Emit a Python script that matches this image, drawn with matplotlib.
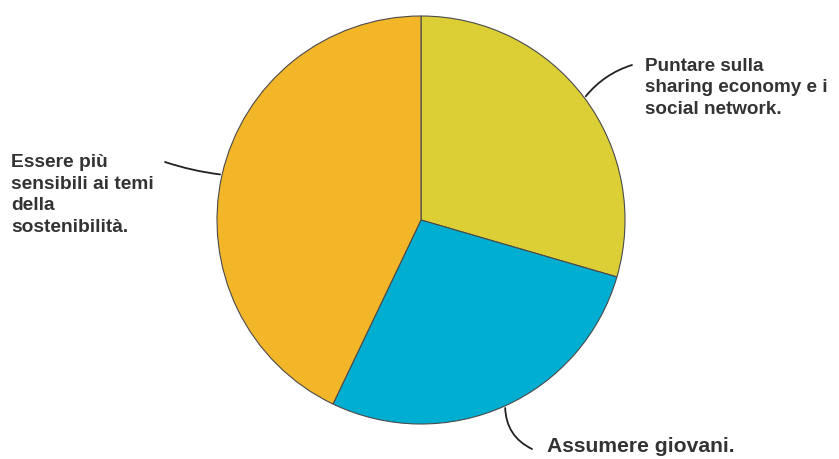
import matplotlib.pyplot as plt
import numpy as np

labels = ['Puntare sulla\nsharing economy e i\nsocial network.',
          'Assumere giovani.',
          'Essere più\nsensibili ai temi\ndella\nsostenibilità.']
values = [29.5, 27.6, 42.9]
colors = ['#dccf36', '#00aed1', '#f2b628']

# text placement (pixel-like coords, y up), line end near text, curvature
text_pos = [(645, 371), (547, 12), (11, 264)]
line_end = [(632, 394), (532, 10), (165, 297)]
rads = [0.15, -0.3, 0.05]
sizes = [13.6, 15.2, 13.8]

fig = plt.figure(figsize=(8.39, 4.59), dpi=100)
ax = fig.add_axes([0, 0, 1, 1])

cx, cy, r = 421, 239, 204
wedges, _ = ax.pie(values, colors=colors, startangle=90, counterclock=False,
                   center=(cx, cy), radius=r, frame=True,
                   wedgeprops=dict(edgecolor='#4a4a4a', linewidth=0.8))
ax.set_xlim(0, 839)
ax.set_ylim(0, 459)
ax.axis('off')

for w, lab, tp, le, rad, fs in zip(wedges, labels, text_pos, line_end, rads, sizes):
    mid = np.deg2rad((w.theta1 + w.theta2) / 2)
    anchor = (cx + (r + 2) * np.cos(mid), cy + (r + 2) * np.sin(mid))
    ax.annotate('', xy=anchor, xytext=le,
                arrowprops=dict(arrowstyle='-', color='#222222', lw=1.3,
                                connectionstyle='arc3,rad=%s' % rad,
                                shrinkA=0, shrinkB=0))
    ax.text(tp[0], tp[1], lab, ha='left', va='center', fontsize=fs,
            fontweight='bold', family='Liberation Sans', color='#333333',
            linespacing=1.36)

fig.savefig('out.png', dpi=100)
